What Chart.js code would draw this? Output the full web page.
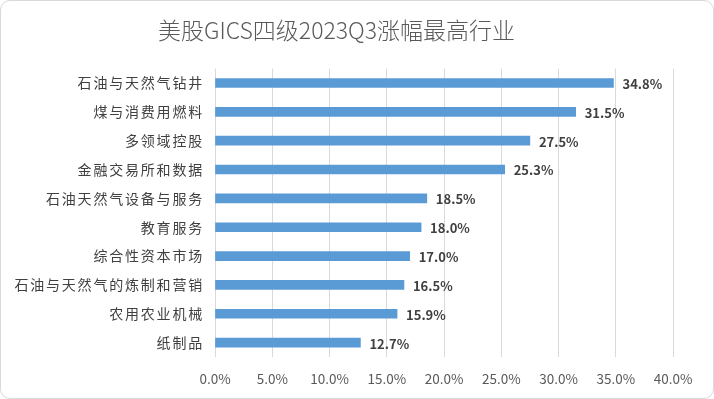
<!DOCTYPE html>
<html>
<head>
<meta charset="utf-8">
<script src="https://cdn.jsdelivr.net/npm/chart.js@4/dist/chart.umd.min.js"></script>
<style>
  body { margin: 0; background: #ffffff; }
  #box {
    position: relative;
    width: 714px;
    height: 399px;
    box-sizing: border-box;
    border: 1px solid #d9d9d9;
    border-radius: 10px;
    background: #ffffff;
  }
  #chart1 { position: absolute; left: -1px; top: -1px; }
</style>
</head>
<body>
<div id="box"><canvas id="chart1" width="714" height="399"></canvas></div>
<script>
// industries, top to bottom
const industries = ["石油与天然气钻井", "煤与消费用燃料", "多领域控股", "金融交易所和数据", "石油天然气设备与服务",
  "教育服务", "综合性资本市场", "石油与天然气的炼制和营销", "农用农业机械", "纸制品"]
// Q3 gain in %
const gains = [34.8, 31.5, 27.5, 25.3, 18.5, 18.0, 17.0, 16.5, 15.9, 12.7]
const xTicks = [0, 5, 10, 15, 20, 25, 30, 35, 40]

const fontFamily = "'Noto Sans CJK SC', 'Noto Sans', sans-serif"

// draws the value labels right of each bar, and the category names
// (done by hand so the names can get the wider letter spacing of the original)
const barLabels = {
  id: "barLabels",
  afterDatasetsDraw(chart) {
    let ctx = chart.ctx
    let meta = chart.getDatasetMeta(0)
    let yScale = chart.scales.y
    ctx.save()
    ctx.font = "bold 13px " + fontFamily
    ctx.fillStyle = "#404040"
    ctx.textAlign = "left"
    ctx.textBaseline = "middle"
    meta.data.forEach((bar, i) => {
      ctx.fillText(gains[i].toFixed(1) + "%", bar.x + 9, bar.y + 1)
    })

    ctx.font = "14px " + fontFamily
    ctx.letterSpacing = "1.8px"
    ctx.textAlign = "right"
    industries.forEach((name, i) => {
      ctx.fillText(name, chart.chartArea.left - 11, yScale.getPixelForTick(i))
    })
    ctx.restore()
  }
}

let c1 = document.getElementById("chart1").getContext("2d")
let gainChart = new Chart(c1, {
  type: "bar",
  data: {
    labels: industries,
    datasets: [{
      label: "涨幅",
      backgroundColor: "#5b9bd5",
      data: gains,
      barThickness: 9
    }]
  },
  options: {
    indexAxis: "y",
    responsive: false,
    animation: false,
    layout: { padding: { left: 0, right: 41, top: 0, bottom: 4 } },
    plugins: {
      legend: { display: false },
      tooltip: { enabled: false },
      title: {
        display: true,
        text: "美股GICS四级2023Q3涨幅最高行业",
        color: "#595959",
        font: { family: fontFamily, size: 23, weight: 300 },
        padding: { top: 16, bottom: 25 }
      }
    },
    scales: {
      x: {
        min: 0,
        max: 40,
        afterBuildTicks: axis => { axis.ticks = xTicks.map(v => ({ value: v })) },
        afterFit: axis => { axis.height = 38 },
        grid: { color: "#d9d9d9", drawTicks: false },
        border: { display: false },
        ticks: {
          color: "#595959",
          padding: 14,
          font: { family: fontFamily, size: 13.5 },
          callback: v => v.toFixed(1) + "%"
        }
      },
      y: {
        grid: { display: false },
        border: { display: false },
        afterFit: axis => { axis.width = 215 },
        ticks: { display: false }
      }
    }
  },
  plugins: [barLabels]
})
</script>
</body>
</html>
